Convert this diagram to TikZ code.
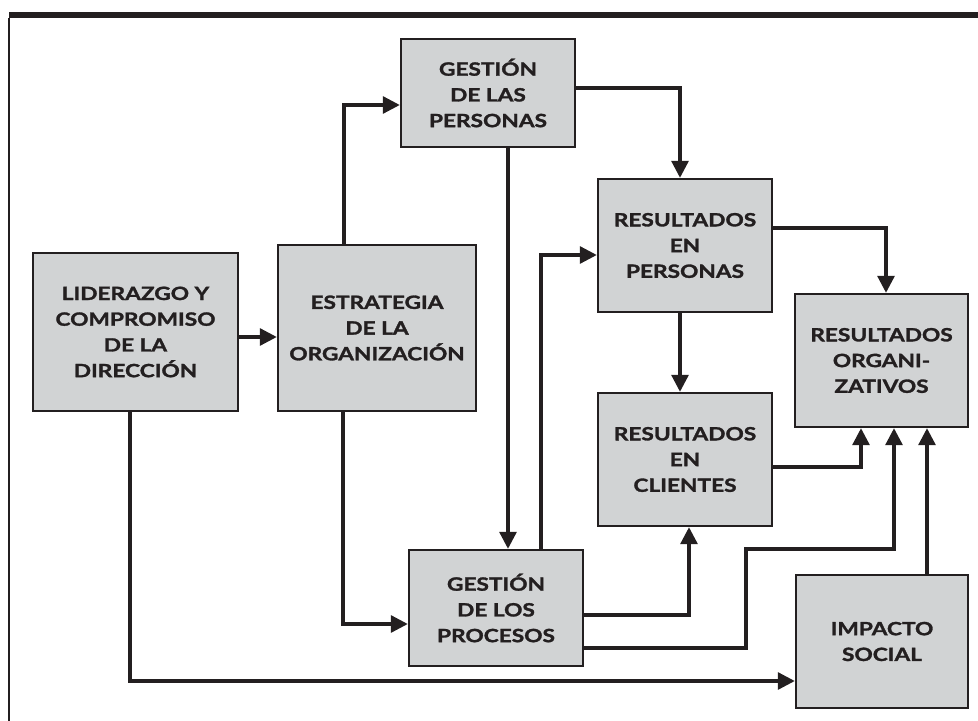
\documentclass[tikz,border=0pt]{standalone}
\usepackage{fontspec}
\setmainfont{Lato}
\newfontfamily\cajafont{Lato}[BoldFeatures={FakeStretch=1.24,FakeBold=1.6}]
\usetikzlibrary{arrows.meta}
\definecolor{tinta}{HTML}{231F20}
\definecolor{gris}{HTML}{D1D3D4}
\begin{document}
\begin{tikzpicture}[x=0.025cm,y=-0.025cm,
caja/.style={draw=tinta,fill=gris,line width=1.7pt,inner sep=0pt,align=center,text=tinta,font=\cajafont\fontsize{13}{18.3}\selectfont\bfseries},
flecha/.style={draw=tinta,line width=2.2pt,-{Triangle[length=0.42cm,width=0.42cm]}}]
\useasboundingbox (0,0) rectangle (978,721);
\fill[tinta] (9,12) rectangle (978,18);
\path[draw=tinta,line width=1.4pt] (9,18) -- (9,721);
\node[caja,minimum width=5.125cm,minimum height=3.95cm] (1) at (135.5,332) {LIDERAZGO Y\\COMPROMISO\\DE LA\\DIRECCIÓN};
\node[caja,minimum width=4.95cm,minimum height=4.15cm] (2) at (377,328) {ESTRATEGIA\\DE LA\\ORGANIZACIÓN};
\node[caja,minimum width=4.35cm,minimum height=2.7cm] (3) at (488,93) {GESTIÓN\\DE LAS\\PERSONAS};
\node[caja,minimum width=4.35cm,minimum height=3.325cm] (4) at (685,245.5) {RESULTADOS\\EN\\PERSONAS};
\node[caja,minimum width=4.325cm,minimum height=3.325cm] (5) at (881.5,360.5) {RESULTADOS\\ORGANI-\\ZATIVOS};
\node[caja,minimum width=4.35cm,minimum height=3.325cm] (6) at (685,459.5) {RESULTADOS\\EN\\CLIENTES};
\node[caja,minimum width=4.35cm,minimum height=2.9cm] (7) at (496,608) {GESTIÓN\\DE LOS\\PROCESOS};
\node[caja,minimum width=4.3cm,minimum height=3.325cm] (8) at (882,641.5) {IMPACTO\\SOCIAL};
\path[flecha] (1.east |- 0,337) -- (2.west |- 0,337);
\path[flecha] (2.north -| 344,0) |- (3.west |- 0,105);
\path[flecha] (3.east |- 0,88) -| (4.north -| 680,0);
\path[flecha] (3.south -| 508,0) -- (7.north -| 508,0);
\path[flecha] (2.south -| 343,0) |- (7.west |- 0,624);
\path[flecha] (7.north -| 541,0) |- (4.west |- 0,255);
\path[flecha] (4.east |- 0,228) -| (5.north -| 886,0);
\path[flecha] (4.south -| 680,0) -- (6.north -| 680,0);
\path[flecha] (6.east |- 0,467) -| (5.south -| 861,0);
\path[flecha] (7.east |- 0,615) -| (6.south -| 689,0);
\path[flecha] (7.east |- 0,648) -| (746,549) -| (5.south -| 894,0);
\path[flecha] (8.north -| 927,0) -- (5.south -| 927,0);
\path[flecha] (1.south -| 130,0) |- (8.west |- 0,681);
\end{tikzpicture}
\end{document}
